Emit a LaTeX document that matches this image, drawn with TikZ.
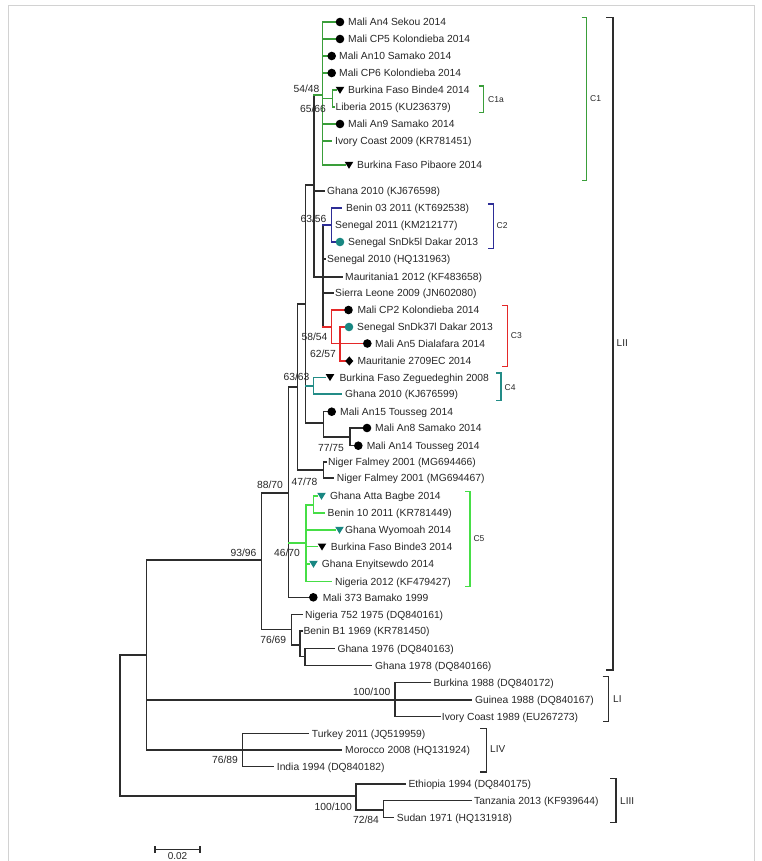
\documentclass[tikz,border=0pt]{standalone}
\usepackage{fontspec}
\setmainfont{Liberation Sans}
\definecolor{treeline}{RGB}{45,45,45}
\definecolor{cladeA}{RGB}{58,158,58}
\definecolor{cladeB}{RGB}{45,45,150}
\definecolor{cladeC}{RGB}{228,40,40}
\definecolor{cladeD}{RGB}{35,140,135}
\definecolor{cladeE}{RGB}{70,222,70}
\definecolor{tealmk}{RGB}{25,135,130}
\newcommand{\dotmk}[3][black]{\fill[#1] (#2,#3) circle (4.3);}
\newcommand{\trimk}[3][black]{\fill[#1] (#2-4.3,#3-3.2) -- (#2+4.3,#3-3.2) -- (#2,#3+3.8) -- cycle;}
\newcommand{\dmdmk}[2]{\fill (#1-4,#2) -- (#1,#2-4.6) -- (#1+4,#2) -- (#1,#2+4.6) -- cycle;}

\begin{document}
\begin{tikzpicture}[x=1pt,y=-1pt,
  br/.style={line width=1.35pt,draw=treeline,line cap=rect},
  brk/.style={line width=1.5pt},
  lf/.style={anchor=base west,inner sep=0pt,yshift=-3.7pt,text=black!85,font=\fontsize{10.3}{12}\selectfont},
  bs/.style={anchor=base,inner sep=0pt,yshift=-3.7pt,text=black!85,font=\fontsize{10.3}{12}\selectfont},
  cl/.style={anchor=base west,inner sep=0pt,yshift=-3pt,text=black!85,font=\fontsize{8.5}{10}\selectfont},
  lg/.style={anchor=base west,inner sep=0pt,yshift=-3.6pt,text=black!85,font=\fontsize{10}{12}\selectfont}]
\useasboundingbox (0,0) rectangle (762,861);
\draw[gray!35,line width=0.8pt] (8.5,5.5) rectangle (754,880);

% root, LI, LIV, LIII
\draw[br] (120,655) -- (120,796);
\draw[br] (120,655) -- (146.7,655);
\draw[br] (120,796) -- (356,796);
\draw[br] (146.7,560) -- (146.7,750);
\draw[br] (146.7,560) -- (261.7,560);
\draw[br] (146.7,700) -- (471.7,700);
\draw[br] (146.7,750) -- (341.7,750);
\draw[br] (242.7,733.3) -- (242.7,766.7);
\draw[br] (242.7,733.3) -- (308.3,733.3);
\draw[br] (242.7,766.7) -- (273.3,766.7);
\draw[br] (395,682.7) -- (395,716.7);
\draw[br] (395,682.7) -- (430,682.7);
\draw[br] (395,716.7) -- (440,716.7);
\draw[br] (356,784) -- (356,810);
\draw[br] (356,784) -- (405,784);
\draw[br] (356,810) -- (383.3,810);
\draw[br] (383.3,800.7) -- (383.3,817.3);
\draw[br] (383.3,800.7) -- (471.7,800.7);
\draw[br] (383.3,817.3) -- (393.3,817.3);

% LII
\draw[br] (261.7,493) -- (261.7,629.7);
\draw[br] (261.7,493) -- (288.3,493);
\draw[br] (261.7,629.7) -- (291.7,629.7);
\draw[br] (291.7,614.3) -- (291.7,645);
\draw[br] (291.7,614.3) -- (302.5,614.3);
\draw[br] (291.7,645) -- (300,645);
\draw[br] (300,631) -- (300,656.7);
\draw[br] (300,631) -- (302,631);
\draw[br] (300,656.7) -- (305,656.7);
\draw[br] (305,648.3) -- (305,665.7);
\draw[br] (305,648.3) -- (334,648.3);
\draw[br] (305,665.7) -- (371.7,665.7);
\draw[br] (288.3,387) -- (288.3,597.3);
\draw[br] (288.3,387) -- (297.3,387);
\draw[br] (288.3,597.3) -- (309,597.3);
\draw[br] (297.3,304) -- (297.3,470);
\draw[br] (297.3,304) -- (305.7,304);
\draw[br] (297.3,470) -- (323.3,470);
\draw[br] (323.3,462) -- (323.3,478);
\draw[br] (323.3,462) -- (326,462);
\draw[br] (323.3,478) -- (333.5,478);
\draw[br] (305.7,185) -- (305.7,423);
\draw[br] (305.7,185) -- (314,185);
\draw[br] (305.7,423) -- (323.3,423);
\draw[br] (323.3,411.7) -- (323.3,437);
\draw[br] (323.3,411.7) -- (327.5,411.7);
\draw[br] (323.3,437) -- (350,437);
\draw[br] (350,428) -- (350,445.7);
\draw[br] (350,428) -- (362.5,428);
\draw[br] (350,445.7) -- (354,445.7);
\draw[br] (314,95) -- (314,277);
\draw[br] (314,191) -- (324,191);
\draw[br] (314,277) -- (342,277);
\draw[br] (323,225) -- (323,327);
\draw[br] (323,259) -- (325.5,259);
\draw[br] (323,293) -- (333,293);

% C1
\draw[br,draw=cladeA] (314,95) -- (322.7,95);
\draw[br,draw=cladeA] (322.7,22) -- (322.7,165);
\draw[br,draw=cladeA] (322.7,22) -- (336,22);
\draw[br,draw=cladeA] (322.7,39) -- (336,39);
\draw[br,draw=cladeA] (322.7,56) -- (327.5,56);
\draw[br,draw=cladeA] (322.7,73) -- (327.5,73);
\draw[br,draw=cladeA] (322.7,98.5) -- (332.3,98.5);
\draw[br,draw=cladeA] (332.3,90) -- (332.3,107);
\draw[br,draw=cladeA] (332.3,90) -- (336,90);
\draw[br,draw=cladeA] (332.3,107) -- (334,107);
\draw[br,draw=cladeA] (322.7,124) -- (336,124);
\draw[br,draw=cladeA] (322.7,141) -- (331,141);
\draw[br,draw=cladeA] (322.7,165) -- (345,165);
% C2
\draw[br,draw=cladeB] (323,225) -- (331.7,225);
\draw[br,draw=cladeB] (331.7,208) -- (331.7,242);
\draw[br,draw=cladeB] (331.7,208) -- (341.7,208);
\draw[br,draw=cladeB] (331.7,242) -- (336,242);
% C3
\draw[br,draw=cladeC] (323,327) -- (331.7,327);
\draw[br,draw=cladeC] (331.7,310) -- (331.7,343.5);
\draw[br,draw=cladeC] (331.7,310) -- (344,310);
\draw[br,draw=cladeC] (331.7,343.5) -- (363,343.5);
\draw[br,draw=cladeC] (340,327) -- (340,361);
\draw[br,draw=cladeC] (340,327) -- (345,327);
\draw[br,draw=cladeC] (340,361) -- (345,361);
% C4
\draw[br,draw=cladeD] (305.7,386) -- (313.3,386);
\draw[br,draw=cladeD] (313.3,377.3) -- (313.3,394);
\draw[br,draw=cladeD] (313.3,377.3) -- (325.5,377.3);
\draw[br,draw=cladeD] (313.3,394) -- (341.7,394);
% C5
\draw[br,draw=cladeE] (288.3,543) -- (306,543);
\draw[br,draw=cladeE] (306,505) -- (306,581.7);
\draw[br,draw=cladeE] (306,505) -- (313.3,505);
\draw[br,draw=cladeE] (313.3,496) -- (313.3,513);
\draw[br,draw=cladeE] (313.3,496) -- (317,496);
\draw[br,draw=cladeE] (313.3,513) -- (324,513);
\draw[br,draw=cladeE] (306,530) -- (335,530);
\draw[br,draw=cladeE] (306,546.7) -- (317.5,546.7);
\draw[br,draw=cladeE] (306,564) -- (309,564);
\draw[br,draw=cladeE] (306,581.7) -- (331.7,581.7);

% markers
\dotmk{340}{22} \dotmk{340}{39} \dotmk{331.7}{56} \dotmk{331.7}{73}
\trimk{340}{90} \dotmk{340}{124} \trimk{349}{165}
\dotmk[tealmk]{340}{242}
\dotmk{348.5}{310} \dotmk[tealmk]{349}{327} \dotmk{367.3}{343.5} \dmdmk{349.3}{361}
\trimk{330}{377.3}
\dotmk{331.7}{411.7} \dotmk{367}{428} \dotmk{358.3}{445.7}
\trimk[tealmk]{321.5}{496} \trimk[tealmk]{339.5}{530} \trimk{322}{546.7} \trimk[tealmk]{313.5}{564}
\dotmk{313.3}{597.3}

% leaves
\node[lf] (mA4) at (348,22) {Mali An4 Sekou 2014};
\node[lf] (mCP5) at (348,39) {Mali CP5 Kolondieba 2014};
\node[lf] (mA10) at (339,56) {Mali An10 Samako 2014};
\node[lf] (mCP6) at (339,73) {Mali CP6 Kolondieba 2014};
\node[lf] (bfB4) at (348,90) {Burkina Faso Binde4 2014};
\node[lf] (lib) at (335.5,107) {Liberia 2015 (KU236379)};
\node[lf] (mA9) at (348,124) {Mali An9 Samako 2014};
\node[lf] (ic09) at (335,141) {Ivory Coast 2009 (KR781451)};
\node[lf] (bfPi) at (357,165) {Burkina Faso Pibaore 2014};
\node[lf] (gh10a) at (327,191) {Ghana 2010 (KJ676598)};
\node[lf] (bn03) at (346,208) {Benin 03 2011 (KT692538)};
\node[lf] (sn11) at (335,225) {Senegal 2011 (KM212177)};
\node[lf] (snD5) at (348,242) {Senegal SnDk5l Dakar 2013};
\node[lf] (sn10) at (327,259) {Senegal 2010 (HQ131963)};
\node[lf] (mau1) at (345,277) {Mauritania1 2012 (KF483658)};
\node[lf] (sl09) at (335,293) {Sierra Leone 2009 (JN602080)};
\node[lf] (mCP2) at (357.3,310) {Mali CP2 Kolondieba 2014};
\node[lf] (snD37) at (357,327) {Senegal SnDk37l Dakar 2013};
\node[lf] (mA5) at (375,343.5) {Mali An5 Dialafara 2014};
\node[lf] (mau27) at (357.3,361) {Mauritanie 2709EC 2014};
\node[lf] (bfZg) at (339.3,377.3) {Burkina Faso Zeguedeghin 2008};
\node[lf] (gh10b) at (345,394) {Ghana 2010 (KJ676599)};
\node[lf] (mA15) at (340,411.7) {Mali An15 Tousseg 2014};
\node[lf] (mA8) at (375,428) {Mali An8 Samako 2014};
\node[lf] (mA14) at (366.7,445.7) {Mali An14 Tousseg 2014};
\node[lf] (nf66) at (328,462) {Niger Falmey 2001 (MG694466)};
\node[lf] (nf67) at (336.7,478) {Niger Falmey 2001 (MG694467)};
\node[lf] (ghAB) at (330,496) {Ghana Atta Bagbe 2014};
\node[lf] (bn10) at (327.5,513) {Benin 10 2011 (KR781449)};
\node[lf] (ghWy) at (345,530) {Ghana Wyomoah 2014};
\node[lf] (bfB3) at (330.7,546.7) {Burkina Faso Binde3 2014};
\node[lf] (ghEn) at (321.7,564) {Ghana Enyitsewdo 2014};
\node[lf] (ng12) at (335,581.7) {Nigeria 2012 (KF479427)};
\node[lf] (m373) at (322.7,597.3) {Mali 373 Bamako 1999};
\node[lf] (ng75) at (305,614.3) {Nigeria 752 1975 (DQ840161)};
\node[lf] (bnB1) at (303.3,631) {Benin B1 1969 (KR781450)};
\node[lf] (gh76) at (337.3,648.3) {Ghana 1976 (DQ840163)};
\node[lf] (gh78) at (375,665.7) {Ghana 1978 (DQ840166)};
\node[lf] (bk88) at (433.3,682.7) {Burkina 1988 (DQ840172)};
\node[lf] (gn88) at (475,700) {Guinea 1988 (DQ840167)};
\node[lf] (ic89) at (441.7,716.7) {Ivory Coast 1989 (EU267273)};
\node[lf] (tk11) at (311.7,733.3) {Turkey 2011 (JQ519959)};
\node[lf] (mo08) at (345,750) {Morocco 2008 (HQ131924)};
\node[lf] (in94) at (276.7,766.7) {India 1994 (DQ840182)};
\node[lf] (et94) at (408.3,784) {Ethiopia 1994 (DQ840175)};
\node[lf] (tz13) at (474,800.7) {Tanzania 2013 (KF939644)};
\node[lf] (sd71) at (396.7,817.3) {Sudan 1971 (HQ131918)};

% bootstrap values
\node[bs] (bt1) at (306.5,89) {54/48};
\node[bs] (bt2) at (313,109) {65/66};
\node[bs] (bt3) at (313.5,219) {63/56};
\node[bs] (bt4) at (314.5,337) {58/54};
\node[bs] (bt5) at (323,354) {62/57};
\node[bs] (bt6) at (296.5,377) {63/63};
\node[bs] (bt7) at (331,448) {77/75};
\node[bs] (bt8) at (304.5,482) {47/78};
\node[bs] (bt9) at (270,485) {88/70};
\node[bs] (bt10) at (287,553) {46/70};
\node[bs] (bt11) at (243.5,553) {93/96};
\node[bs] (bt12) at (273.3,640) {76/69};
\node[bs] (bt13) at (371.7,691.7) {100/100};
\node[bs] (bt14) at (225,760) {76/89};
\node[bs] (bt15) at (333.3,806.7) {100/100};
\node[bs] (bt16) at (366,820) {72/84};

% clade brackets
\draw[brk,draw=cladeA] (581.7,17.3) -- (586.7,17.3) -- (586.7,180.7) -- (581.7,180.7);
\node[cl] (kC1) at (590,99) {C1};
\draw[brk,draw=cladeA] (478.8,86) -- (483.3,86) -- (483.3,112.7) -- (478.8,112.7);
\node[cl] (kC1a) at (488,99.3) {C1a};
\draw[brk,draw=cladeB] (487.8,204) -- (493.3,204) -- (493.3,248.3) -- (487.8,248.3);
\node[cl] (kC2) at (496.5,225.7) {C2};
\draw[brk,draw=cladeC] (502.2,305.7) -- (507.7,305.7) -- (507.7,366.7) -- (502.2,366.7);
\node[cl] (kC3) at (510.7,335.7) {C3};
\draw[brk,draw=cladeD] (496,373) -- (501,373) -- (501,400.7) -- (496,400.7);
\node[cl] (kC4) at (504.5,387.3) {C4};
\draw[brk,draw=cladeE] (465,491.7) -- (470,491.7) -- (470,586.7) -- (465,586.7);
\node[cl] (kC5) at (473.3,538.3) {C5};

% lineage brackets
\draw[brk,draw=treeline] (606,17.3) -- (613,17.3) -- (613,670) -- (606,670);
\node[lg] (kLII) at (616.5,343) {LII};
\draw[brk,draw=treeline] (602.5,676.7) -- (608.3,676.7) -- (608.3,721.7) -- (602.5,721.7);
\node[lg] (kLI) at (613,699.3) {LI};
\draw[brk,draw=treeline] (480.3,728.3) -- (486.3,728.3) -- (486.3,772) -- (480.3,772);
\node[lg] (kLIV) at (490,749.3) {LIV};
\draw[brk,draw=treeline] (610,778.3) -- (616,778.3) -- (616,822.7) -- (610,822.7);
\node[lg] (kLIII) at (620,800.7) {LIII};

% scale bar
\draw[br] (155,849.3) -- (200,849.3);
\draw[br] (155,846.5) -- (155,852.1);
\draw[br] (200,846.5) -- (200,852.1);
\node[anchor=base,inner sep=0pt,text=black!85,font=\fontsize{10}{12}\selectfont] (scl) at (177.5,859.5) {0.02};
\end{tikzpicture}
\end{document}
